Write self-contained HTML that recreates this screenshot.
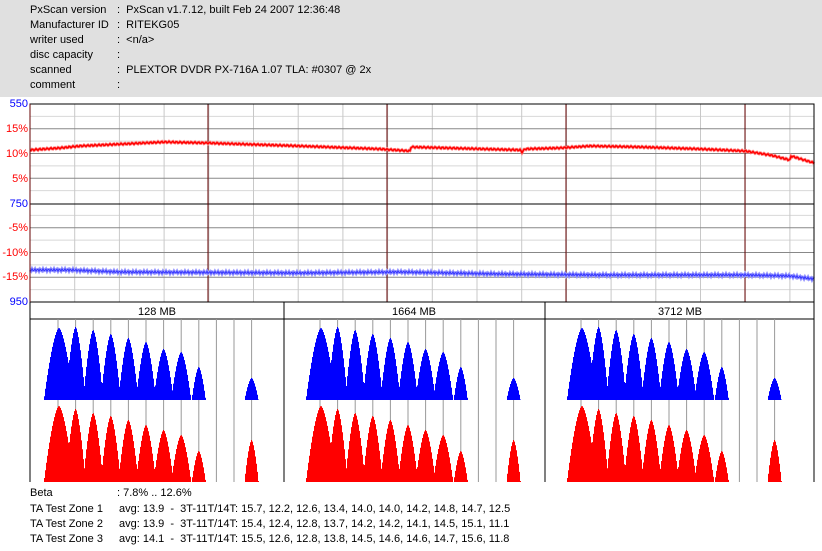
<!DOCTYPE html>
<html><head><meta charset="utf-8"><style>
body{margin:0;width:822px;height:551px;background:#fff;overflow:hidden;font-family:"Liberation Sans","Noto Sans CJK JP",sans-serif;}
#hdr{position:absolute;left:0;top:0;width:822px;height:97px;background:#e0e0e0;}
.t{position:absolute;font-size:11px;color:#000;white-space:pre;line-height:13px;}
.yl{position:absolute;font-size:11px;width:28px;text-align:right;left:0;line-height:12px;}
</style></head><body>
<div id="hdr"></div>
<div class="t" style="left:30px;top:4px">PxScan version</div><div class="t" style="left:117px;top:4px">:  PxScan v1.7.12, built Feb 24 2007 12:36:48</div>
<div class="t" style="left:30px;top:19px">Manufacturer ID</div><div class="t" style="left:117px;top:19px">:  RITEKG05</div>
<div class="t" style="left:30px;top:34px">writer used</div><div class="t" style="left:117px;top:34px">:  &lt;n/a&gt;</div>
<div class="t" style="left:30px;top:49px">disc capacity</div><div class="t" style="left:117px;top:49px">:</div>
<div class="t" style="left:30px;top:64px">scanned</div><div class="t" style="left:117px;top:64px">:  PLEXTOR DVDR PX-716A 1.07 TLA: #0307 @ 2x</div>
<div class="t" style="left:30px;top:79px">comment</div><div class="t" style="left:117px;top:79px">:</div>

<div class="yl" style="top:98px;color:#00f">550</div>
<div class="yl" style="top:123px;color:#f00">15%</div>
<div class="yl" style="top:148px;color:#f00">10%</div>
<div class="yl" style="top:173px;color:#f00">5%</div>
<div class="yl" style="top:198px;color:#00f">750</div>
<div class="yl" style="top:222px;color:#f00">-5%</div>
<div class="yl" style="top:247px;color:#f00">-10%</div>
<div class="yl" style="top:271px;color:#f00">-15%</div>
<div class="yl" style="top:296px;color:#00f">950</div>

<svg id="s" width="822" height="551" style="position:absolute;left:0;top:0"></svg>

<div class="t" style="left:30px;top:487px">Beta</div><div class="t" style="left:117px;top:487px">: 7.8% .. 12.6%</div>
<div class="t" style="left:30px;top:503px">TA Test Zone 1</div><div class="t" style="left:119px;top:503px">avg: 13.9  -  3T-11T/14T: 15.7, 12.2, 12.6, 13.4, 14.0, 14.0, 14.2, 14.8, 14.7, 12.5</div>
<div class="t" style="left:30px;top:518px">TA Test Zone 2</div><div class="t" style="left:119px;top:518px">avg: 13.9  -  3T-11T/14T: 15.4, 12.4, 12.8, 13.7, 14.2, 14.2, 14.1, 14.5, 15.1, 11.1</div>
<div class="t" style="left:30px;top:533px">TA Test Zone 3</div><div class="t" style="left:119px;top:533px">avg: 14.1  -  3T-11T/14T: 15.5, 12.6, 12.8, 13.8, 14.5, 14.6, 14.6, 14.7, 15.6, 11.8</div>

<script>
const s=document.getElementById('s');let h='';
const L=30,R=814,T=104,B=302;
for(let i=0;i<8;i++){let y=T+12.4+i*24.75;h+=`<line x1="${L}" x2="${R}" y1="${y}" y2="${y}" stroke="#d8d8d8"/>`;}
for(let k=0;k<18;k++){let x=L+44.7*k;if(x>R)break;h+=`<line x1="${x}" x2="${x}" y1="${T}" y2="${B}" stroke="#c8c8c8"/>`;}
[1,2,3,5,6,7].forEach(i=>{let y=T+i*24.75;h+=`<line x1="${L}" x2="${R}" y1="${y}" y2="${y}" stroke="#888"/>`;});
h+=`<line x1="${L}" x2="${R}" y1="204" y2="204" stroke="#000"/>`;
[208,387,566,745].forEach(x=>h+=`<line x1="${x}" x2="${x}" y1="${T}" y2="${B}" stroke="#600"/>`);
const rp=[[30,150],[60,148],[80,146],[165,142],[208,143],[300,146],[380,149],[410,151],[411,147],[520,150],[522,152],[525,149],[560,148],[590,146],[640,147],[700,149],[745,151],[770,155],[790,160],[791,156],[814,163]];
function interp(p,x){for(let i=1;i<p.length;i++)if(x<=p[i][0]){let a=p[i-1],b=p[i];return a[1]+(b[1]-a[1])*(x-a[0])/(b[0]-a[0]||1);}return p[p.length-1][1];}
let rs='',bs='';
for(let x=30;x<=814;x++){rs+=`${x},${(interp(rp,x)+Math.sin(x*1.7)*0.8).toFixed(1)} `;}
const bp=[[30,270],[70,270],[120,272],[300,273],[400,272],[500,274],[600,275],[745,275],[790,276],[814,279]];
for(let x=30;x<=814;x++){bs+=`${x},${(interp(bp,x)+Math.sin(x*2.3)*1.2).toFixed(1)} `;}
h+=`<polyline points="${bs}" fill="none" stroke="#99f" stroke-width="3"/><polyline points="${bs}" fill="none" stroke="#33f" stroke-width="1"/>`;
h+=`<polyline points="${rs}" fill="none" stroke="#f88" stroke-width="3"/><polyline points="${rs}" fill="none" stroke="#f00" stroke-width="1.5"/>`;
h+=`<rect x="${L}" y="${T}" width="${R-L}" height="${B-T}" fill="none" stroke="#000"/>`;
h+=`<line x1="${L}" x2="${L}" y1="${T}" y2="${B}" stroke="#600"/>`;
h+=`<line x1="30" x2="${R}" y1="319" y2="319" stroke="#000"/>`;
[284,545].forEach(x=>h+=`<line x1="${x}" x2="${x}" y1="302" y2="482" stroke="#000"/>`);
h+=`<line x1="30" x2="30" y1="302" y2="482" stroke="#000"/><line x1="${R}" x2="${R}" y1="302" y2="482" stroke="#000"/>`;
[["128 MB",157],["1664 MB",414],["3712 MB",680]].forEach(a=>h+=`<text x="${a[1]}" y="315" font-size="11" text-anchor="middle" font-family="Liberation Sans,sans-serif">${a[0]}</text>`);
const bh=[72,73,70,66,62,58,51,48,33,0,0,22], rh=[76,73,69,66,62,57,52,47,31,0,0,42];
[[30,28],[284,36],[545,36]].forEach(([p0,off])=>{
 const xs=[];for(let k=0;k<12;k++)xs.push(p0+off+k*17.6);
 xs.forEach(x=>h+=`<line x1="${x}" x2="${x}" y1="319" y2="482" stroke="#999"/>`);
 for(const [hs,base,col] of [[bh,400,'#00f'],[rh,482,'#f00']]){
  let d='';
  for(let x=p0+12;x<p0+off+205;x+=1){
   let m=0;hs.forEach((hh,k)=>{if(!hh)return;let w=k==0?15:(k>=8?7:10);let c=xs[k]+(k==0?1:0);let r=Math.abs(x+0.5-c)/w;if(r>=1)return;let v=hh*(1-Math.pow(r,1.6));if(v>m)m=v;});
   if(m>0.5)d+=`M${x} ${base}v${-m.toFixed(1)}h1v${m.toFixed(1)}z`;
  }
  h+=`<path d="${d}" fill="${col}"/>`;
 }
});
s.innerHTML=h;
</script>
</body></html>
